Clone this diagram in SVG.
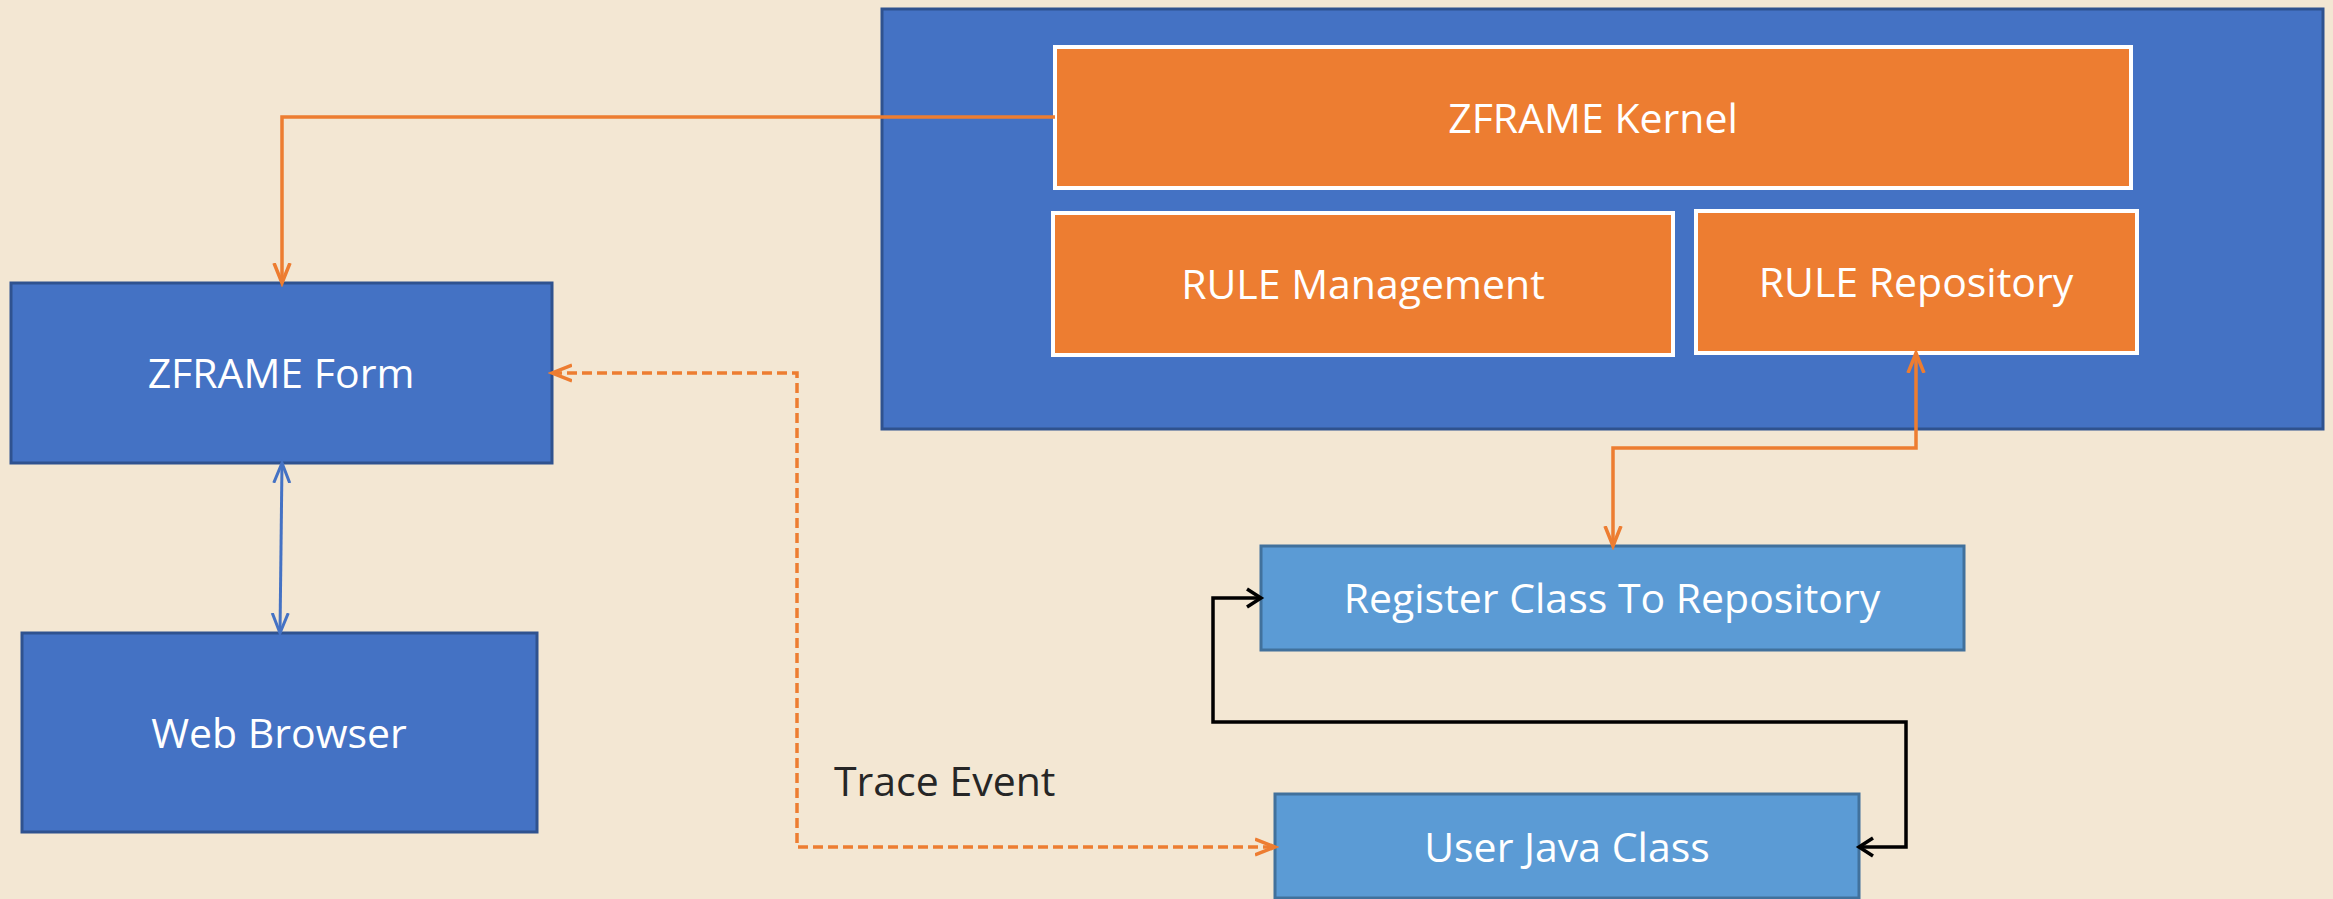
<svg xmlns="http://www.w3.org/2000/svg" width="2333" height="899" viewBox="0 0 2333 899">
<style>
.lbl{font-family:"Open Sans","Noto Sans","DejaVu Sans",sans-serif;font-size:41px;fill:#FFFFFF;text-anchor:middle}
.dark{fill:#262626;text-anchor:start}
.box{fill:#4472C4;stroke:#2F528F;stroke-width:3}
.lbox{fill:#5B9BD5;stroke:#41719C;stroke-width:3}
.obox{fill:#ED7D31;stroke:#FFFFFF;stroke-width:4}
.co{fill:none;stroke:#ED7D31;stroke-width:3.5}
.cb{fill:none;stroke:#4472C4;stroke-width:3}
.ck{fill:none;stroke:#000000;stroke-width:3.5}
.dash{stroke-dasharray:10 5}
</style>
<defs>
<marker id="ao" viewBox="-20 -12 24 24" refX="0" refY="0" markerWidth="24" markerHeight="24" markerUnits="userSpaceOnUse" orient="auto-start-reverse"><path d="M-20,-8 L0,0 L-20,8" fill="none" stroke="#ED7D31" stroke-width="3.5"/></marker>
<marker id="ab" viewBox="-20 -12 24 24" refX="0" refY="0" markerWidth="24" markerHeight="24" markerUnits="userSpaceOnUse" orient="auto-start-reverse"><path d="M-20,-8 L0,0 L-20,8" fill="none" stroke="#4472C4" stroke-width="3"/></marker>
<marker id="ak" viewBox="-20 -12 24 24" refX="0" refY="0" markerWidth="24" markerHeight="24" markerUnits="userSpaceOnUse" orient="auto-start-reverse"><path d="M-14,-9 L0,0 L-14,9" fill="none" stroke="#000000" stroke-width="3.5"/></marker>
</defs>
<rect x="0" y="0" width="2333" height="899" fill="#F3E7D3"/>
<g id="container">
<rect class="box" x="882" y="9" width="1441" height="420"/>
</g>
<g id="zframe-kernel">
<rect class="obox" x="1055" y="47" width="1076" height="141"/>
<text class="lbl" x="1593" y="133">ZFRAME Kernel</text>
</g>
<g id="rule-management">
<rect class="obox" x="1053" y="213" width="620" height="142"/>
<text class="lbl" x="1363" y="299">RULE Management</text>
</g>
<g id="rule-repository">
<rect class="obox" x="1696" y="211" width="441" height="142"/>
<text class="lbl" x="1916" y="297">RULE Repository</text>
</g>
<g id="zframe-form">
<rect class="box" x="11" y="283" width="541" height="180"/>
<text class="lbl" x="281" y="388">ZFRAME Form</text>
</g>
<g id="web-browser">
<rect class="box" x="22" y="633" width="515" height="199"/>
<text class="lbl" x="279" y="748">Web Browser</text>
</g>
<g id="register-class">
<rect class="lbox" x="1261" y="546" width="703" height="104"/>
<text class="lbl" x="1612" y="613">Register Class To Repository</text>
</g>
<g id="user-java-class">
<rect class="lbox" x="1275" y="794" width="584" height="104"/>
<text class="lbl" x="1567" y="862">User Java Class</text>
</g>
<g id="connectors">
<path class="co" d="M1055,117 H282 V283" marker-end="url(#ao)"/>
<path class="cb" d="M282,463 L280,633" marker-start="url(#ab)" marker-end="url(#ab)"/>
<path class="co dash" d="M552,373 H797 V847 H1275" marker-start="url(#ao)" marker-end="url(#ao)"/>
<path class="co" d="M1916,353 V448 H1613 V546" marker-start="url(#ao)" marker-end="url(#ao)"/>
<path class="ck" d="M1261,598 H1213 V722 H1906 V847 H1859" marker-start="url(#ak)" marker-end="url(#ak)"/>
<text class="lbl dark" x="834" y="796">Trace Event</text>
</g>
</svg>
